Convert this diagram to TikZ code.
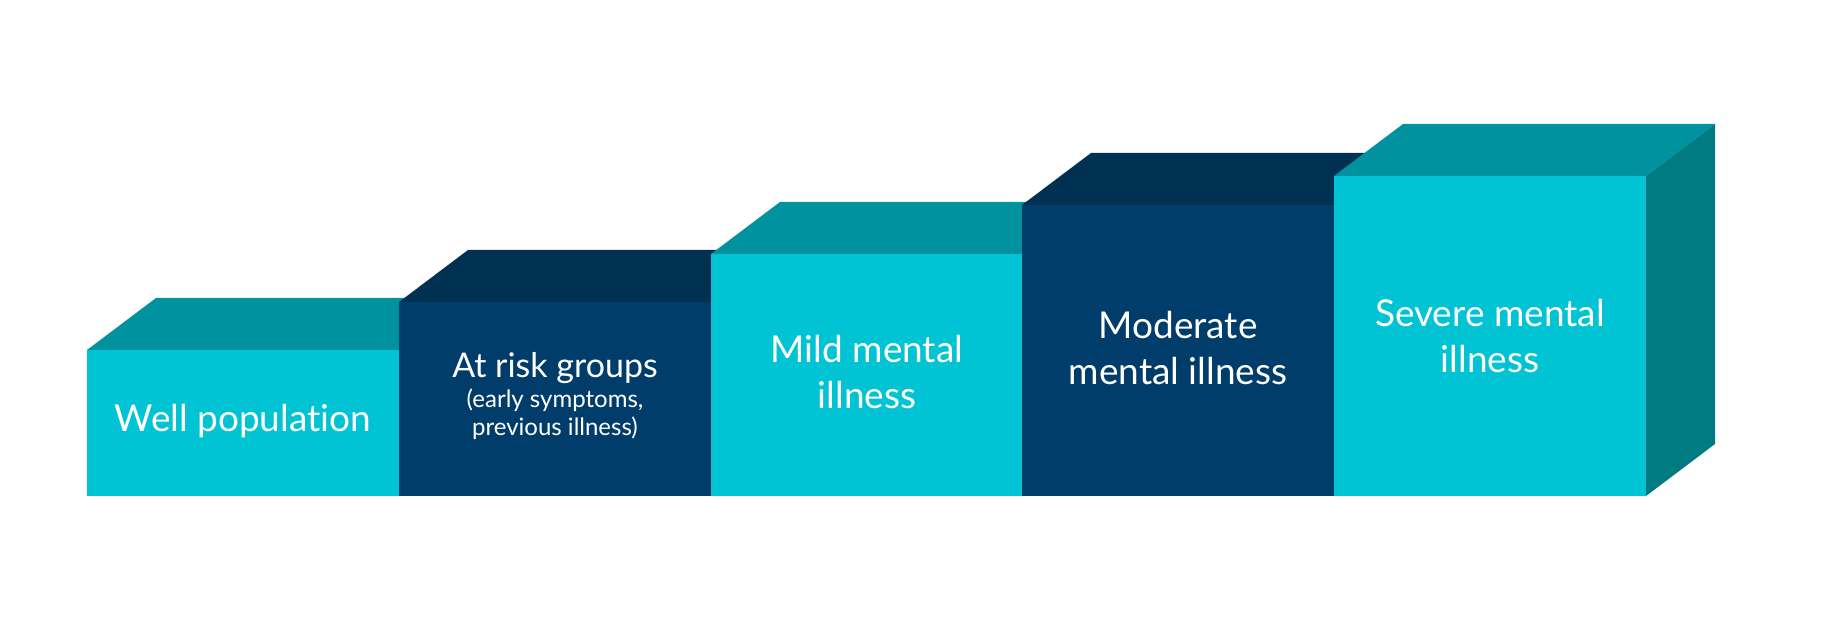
\documentclass[tikz,border=0pt]{standalone}
\usepackage{fontspec}
\setmainfont{Lato}[Ligatures=NoCommon]
\usetikzlibrary{calc}

\definecolor{facecyan}{HTML}{00C4D3}
\definecolor{lidcyan}{HTML}{00929E}
\definecolor{facenavy}{HTML}{003D6B}
\definecolor{lidnavy}{HTML}{003152}
\definecolor{sideteal}{HTML}{007B82}

\begin{document}
\begin{tikzpicture}[x=1pt, y=1pt,
  boxtext/.style={text=white, align=center, inner sep=0pt, anchor=base,
    font=\fontsize{37}{46}\selectfont},
  notetext/.style={text=white, align=center, inner sep=0pt, anchor=base,
    font=\fontsize{24}{28}\selectfont}]
  \useasboundingbox (0,0) rectangle (1825,638);

  % step 1
  \fill [lidcyan] (87,288) -- (156,340) -- (468,340) -- (399,288) -- cycle;
  \fill [facecyan] (87,142) rectangle (399,288);
  % step 2
  \fill [lidnavy] (399,336) -- (468,388) -- (780,388) -- (711,336) -- cycle;
  \fill [facenavy] (399,142) rectangle (711,336);
  % step 3
  \fill [lidcyan] (711,384) -- (780,436) -- (1091,436) -- (1022,384) -- cycle;
  \fill [facecyan] (711,142) rectangle (1022,384);
  % step 4
  \fill [lidnavy] (1022,433) -- (1091,485) -- (1403,485) -- (1334,433) -- cycle;
  \fill [facenavy] (1022,142) rectangle (1334,433);
  % step 5
  \fill [lidcyan] (1334,462) -- (1403,514) -- (1715,514) -- (1646,462) -- cycle;
  \fill [sideteal] (1646,142) -- (1715,194) -- (1715,514) -- (1646,462) -- cycle;
  \fill [facecyan] (1334,142) rectangle (1646,462);

  % labels (base = baseline of the last line)
  \node [boxtext] (well) at (243,207) {Well population};
  \node [boxtext, font=\fontsize{34}{40}\selectfont] (risk) at (555,261) {At risk groups};
  \node [notetext] (risknote) at (555,203) {(early symptoms,\\previous illness)};
  \node [boxtext] (mild) at (867,230) {Mild mental\\illness};
  \node [boxtext] (moderate) at (1178,254) {Moderate\\mental illness};
  \node [boxtext] (severe) at (1490,266) {Severe mental\\illness};
\end{tikzpicture}
\end{document}
